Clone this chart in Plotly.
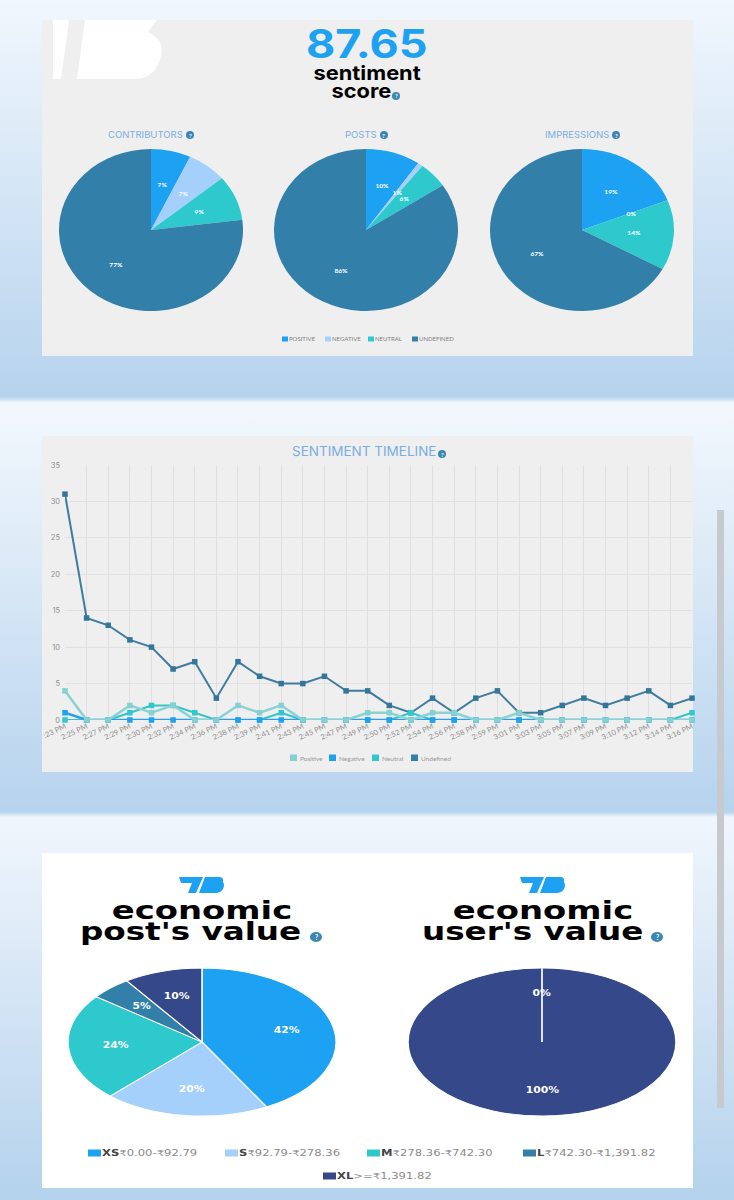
import json, math
import plotly.graph_objects as go

W, H = 734, 1200
times = ["2:23 PM","2:25 PM","2:27 PM","2:29 PM","2:30 PM","2:32 PM","2:34 PM","2:36 PM","2:38 PM","2:39 PM",
         "2:41 PM","2:43 PM","2:45 PM","2:47 PM","2:49 PM","2:50 PM","2:52 PM","2:54 PM","2:56 PM","2:58 PM",
         "2:59 PM","3:01 PM","3:03 PM","3:05 PM","3:07 PM","3:09 PM","3:10 PM","3:12 PM","3:14 PM","3:16 PM"]
tick_text = [":23 PM"] + times[1:]
positive = [4,0,0,2,1,2,0,0,2,1,2,0,0,0,1,1,0,1,1,0,0,1,0,0,0,0,0,0,0,0]
negative = [1,0,0,0,0,0,0,0,0,0,0,0,0,0,0,0,0,0,0,0,0,0,0,0,0,0,0,0,0,0]
neutral  = [0,0,0,1,2,2,1,0,0,0,1,0,0,0,0,0,1,0,0,0,0,0,0,0,0,0,0,0,0,1]
undefined= [31,14,13,11,10,7,8,3,8,6,5,5,6,4,4,2,1,3,1,3,4,1,1,2,3,2,3,4,2,3]

sent_labels = ["POSITIVE","NEGATIVE","NEUTRAL","UNDEFINED"]
sent_colors = ["#1da1f2","#a5d0fb","#2ec9cc","#3280a9"]
contrib_vals = [7,7,9,77];       contrib_text = ["7%","7%","9%","77%"]
posts_vals = [9.6,0.9,5.2,84.3]; posts_text = ["10%","1%","6%","86%"]
impr_vals = [19,0,14,67];        impr_text = ["19%","0%","14%","67%"]

econ_labels = ["XS₹0.00-₹92.79","S₹92.79-₹278.36","M₹278.36-₹742.30","L₹742.30-₹1,391.82","XL>=₹1,391.82"]
econ_colors = ["#1da1f2","#a5d0fb","#2ec9cc","#3280a9","#34488a"]
post_vals = [42,20,23.5,5,9.5];  post_text = ["42%","20%","24%","5%","10%"]
user_vals = [0,0,0,0,100];       user_text = ["0%","","","","100%"]

X = lambda p: p / W
Y = lambda p: 1 - p / H
shapes, anns, stretch = [], [], []

def rect(x0, y0, x1, y1, color, layer="below"):
    shapes.append(dict(type="rect", xref="paper", yref="paper", x0=X(x0), x1=X(x1), y0=Y(y0), y1=Y(y1),
                       fillcolor=color, line_width=0, layer=layer))

def poly(points, color):
    d = ""
    for cmd, *c in points:
        d += cmd + " ".join(f"{X(c[i]):.5f} {Y(c[i+1]):.5f}" for i in range(0, len(c), 2)) + " "
    shapes.append(dict(type="path", xref="paper", yref="paper", path=d + "Z", fillcolor=color, line_width=0, layer="below"))

def text(x, y, s, size, color, font="Lato", anchor="center", sx=1):
    anns.append(dict(x=X(x), y=Y(y), xref="paper", yref="paper", text=s, showarrow=False, xanchor=anchor, yanchor="middle",
                     font=dict(size=size, color=color, family=font), borderpad=0, borderwidth=0))
    stretch.append(f"translate({x},0) scale({sx},1) translate({-x},0)" if sx != 1 else "")

def help_icon(x, y, rx=4, ry=4, size=6):
    shapes.append(dict(type="circle", xref="paper", yref="paper", x0=X(x-rx), x1=X(x+rx), y0=Y(y-ry), y1=Y(y+ry),
                       fillcolor="#3a86b4", line_width=0, layer="below"))
    text(x, y, "<b>?</b>", size, "#ffffff")

# panels
rect(42, 20, 693, 356, "#efefef")
rect(42, 436, 693, 772, "#efefef")
rect(42, 853, 693, 1188, "#ffffff")
rect(717, 510, 724, 1108, "#c6c9cd", "above")

# white mark, top-left of the first panel
poly([("M",53,20),("L",69,20),("L",61,79),("L",53,79)], "#ffffff")
poly([("M",85,20),("L",157,20),("L",148,32),("Q",165,40,161,56),("Q",155,79,135,79),("L",77,79)], "#ffffff")

def tb_logo(cx, y):
    poly([("M",cx-23,y),("L",cx+1,y),("L",cx-6,y+16),("L",cx-14,y+16),("L",cx-10,y+6),("L",cx-21,y+6)], "#1da1f2")
    poly([("M",cx+3,y),("L",cx+17,y),("Q",cx+22,y,cx+21,y+5),("Q",cx+23,y+8,cx+21,y+12),("Q",cx+19,y+16,cx+13,y+16),("L",cx-3,y+16)], "#1da1f2")
tb_logo(202, 877)
tb_logo(543, 877)

# headline
text(366, 44, "<b>87.65</b>", 39, "#1da1f2", "Inter", sx=1.155)
text(367, 73, "<b>sentiment</b>", 20, "#000000", "Inter", sx=1.09)
text(361, 91, "<b>score</b>", 20, "#000000", "Inter", sx=1.09)
help_icon(396, 96)

title_blue = "#7bade0"
for cx, s, ix in [(145,"CONTRIBUTORS",190),(361,"POSTS",384),(577,"IMPRESSIONS",616)]:
    text(cx, 134, s, 9.5, title_blue, "Inter")
    help_icon(ix, 135)
text(363.5, 451, "SENTIMENT TIMELINE", 13.5, title_blue, "Inter")
help_icon(442, 454)

text(202, 911, "<b>economic</b>", 24, "#000000", "DejaVu Sans", sx=1.41)
text(190, 932, "<b>post's value</b>", 24, "#000000", "DejaVu Sans", sx=1.36)
help_icon(316, 937, 6, 5, 7)
text(543, 911, "<b>economic</b>", 24, "#000000", "DejaVu Sans", sx=1.41)
text(532, 932, "<b>user's value</b>", 24, "#000000", "DejaVu Sans", sx=1.36)
help_icon(657, 937, 6, 5, 7)

# legends
for x0, s, c in zip([282,325,368,412], sent_labels, sent_colors):
    rect(x0, 336.5, x0+6, 341.5, c)
    text(x0+6.5, 339, s, 6, "#808080", anchor="left")
line_names = ["Positive","Negative","Neutral","Undefined"]
line_colors = ["#85d0d0","#1da1f2","#2ec9cc","#3280a9"]
for x0, s, c in zip([290,329,372,411], line_names, line_colors):
    rect(x0, 754.5, x0+7, 761, c)
    text(x0+10, 758, s, 6.5, "#999999", anchor="left")
for x0, y0, s, c in zip([88,225,367,523,323],[1153,1153,1153,1153,1176], econ_labels, econ_colors):
    rect(x0, y0-3.5, x0+13, y0+3.5, c)
    size = s[:2] if s[:2] == "XS" or s[:2] == "XL" else s[:1]
    text(x0+14, y0, f"<b><span style='color:#444'>{size}</span></b>" + s[len(size):], 8, "#8a8a8a", "DejaVu Sans", "left", sx=1.45)

# pies
pies = [(151,230,92,81,contrib_vals,contrib_text,sent_labels,sent_colors,0,0.57,6,"Lato",1.1),
        (366,230,92,81,posts_vals,posts_text,sent_labels,sent_colors,0,0.57,6,"Lato",1.1),
        (582,230,92,81,impr_vals,impr_text,sent_labels,sent_colors,0,0.57,6,"Lato",1.1),
        (202,1042,134,74,post_vals,post_text,econ_labels,econ_colors,1.5,0.65,8,"DejaVu Sans",1.35),
        (542,1042,134,74,user_vals,user_text,econ_labels,econ_colors,1.5,0.65,8,"DejaVu Sans",1.35)]
fig = go.Figure()
transforms = []
for cx, cy, rx, ry, vals, labs, names, cols, lw, rf, fs, fam, lsx in pies:
    fig.add_trace(go.Pie(values=vals, labels=names, sort=False, direction="clockwise", rotation=0,
                         marker=dict(colors=cols, line=dict(color="#ffffff", width=lw)),
                         textinfo="none", hoverinfo="skip", showlegend=False, automargin=False,
                         domain=dict(x=[X(cx-rx), X(cx+rx)], y=[Y(cy+rx), Y(cy-rx)])))
    transforms.append(f"translate({cx},{cy}) scale(1,{ry/rx:.4f}) translate({-cx},{-cy})")
    total, cum = sum(vals), 0
    for v, s in zip(vals, labs):
        a = 2 * math.pi * (cum + v / 2) / total
        cum += v
        if s:
            text(cx + rx * rf * math.sin(a), cy - ry * rf * math.cos(a), f"<b>{s}</b>", fs, "#ffffff", fam, sx=lsx)
# zero-valued slices of the user's-value pie show only as their white border
shapes.append(dict(type="line", xref="paper", yref="paper", x0=X(542), x1=X(542), y0=Y(968), y1=Y(1042),
                   line=dict(color="#dfe3ee", width=2), layer="above"))

# timeline (first series drawn on top, so added last)
for name, vals, col, mc, lw in [("Undefined",undefined,"#3f7c9e","#34769a",2),("Neutral",neutral,"#34c4c8","#2ec9cc",2),
                                ("Negative",negative,"#2a9fe6","#1da1f2",2.5),("Positive",positive,"#8bd2d4","#85d0d0",2.5)]:
    fig.add_trace(go.Scatter(x=list(range(len(times))), y=vals, name=name, mode="lines+markers", cliponaxis=False,
                             line=dict(color=col, width=lw), marker=dict(color=mc, size=5.5, symbol="square"),
                             showlegend=False, hoverinfo="skip"))

grid = "#e0e0e0"
fig.update_layout(
    width=W, height=H, margin=dict(l=0, r=0, t=0, b=0), autosize=False,
    paper_bgcolor="rgba(0,0,0,0)", plot_bgcolor="rgba(0,0,0,0)", showlegend=False,
    shapes=shapes, annotations=anns,
    xaxis=dict(domain=[X(65), X(692)], range=[0, 29], tickvals=list(range(len(times))), ticktext=tick_text, tickangle=-25,
               showgrid=True, gridcolor=grid, gridwidth=1, zeroline=False, showline=False, ticks="", automargin=False,
               tickfont=dict(size=7.5, color="#909090", family="Lato")),
    yaxis=dict(domain=[Y(720), Y(465)], range=[0, 35], tickvals=[0,5,10,15,20,25,30,35], ticklabelstandoff=4,
               showgrid=True, gridcolor=grid, gridwidth=1, zeroline=False, showline=False, ticks="", automargin=False,
               tickfont=dict(size=7.5, color="#909090", family="Inter")),
)

post = """
document.documentElement.style.overflow='hidden';
document.body.style.margin='0';
document.body.style.overflow='hidden';
document.body.style.background='linear-gradient(to bottom,#f1f7fd 0,#b6d3ed 397px,#f3f8fd 403px,#b6d3ed 812px,#f1f6fd 817px,#b4d2ec 1200px)';
var t=%s, s=%s;
document.querySelectorAll('.pielayer g.trace').forEach(function(g,i){g.setAttribute('transform',t[i]);});
document.querySelectorAll('g.annotation').forEach(function(g){var k=s[+g.getAttribute('data-index')]; if(k){g.setAttribute('transform',k);}});
""" % (json.dumps(transforms), json.dumps(stretch))
fig.write_html("out.html", post_script=post, config=dict(displayModeBar=False, responsive=False))
